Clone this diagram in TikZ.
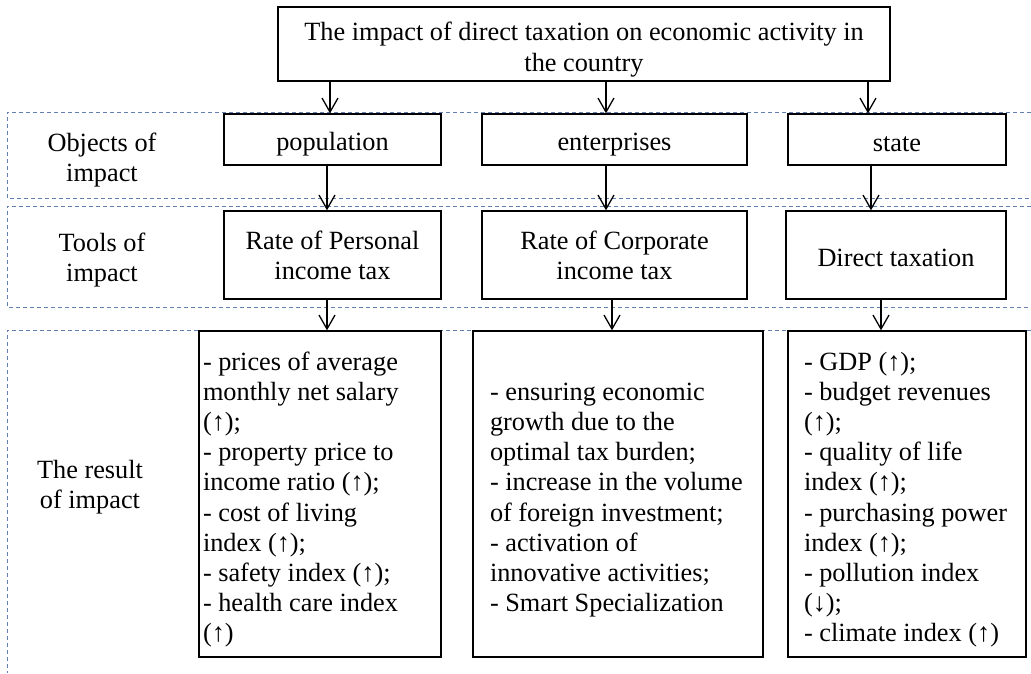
\documentclass[tikz,border=0pt]{standalone}
\usepackage{fontspec}
\setmainfont{Liberation Serif}
\usetikzlibrary{arrows.meta}
\definecolor{bandblue}{RGB}{96,128,178}
% text set a little lower in its box, box size unchanged
\newcommand{\lowered}[2][5pt]{\raisebox{-#1}[\height][\depth]{#2}}
% lines of a result box, kept as typed
\newcommand{\itemlines}[1]{\lowered[6pt]{\begin{tabular}{@{}l@{}}#1\end{tabular}}}

\tikzset{
  box/.style={draw, line width=1.3pt, inner sep=0pt, align=center},
  listbox/.style={box, align=flush left, inner ysep=0pt},
  band/.style={bandblue, line width=1pt, dash pattern=on 4pt off 3pt},
  arr/.style={line width=1.3pt, -{Straight Barb[length=14pt,width=16pt]}}
}

\begin{document}
\begin{tikzpicture}[x=1pt, y=-1pt,
    every node/.style={font=\fontsize{26.3}{30.2}\selectfont}]
  \useasboundingbox (0,0) rectangle (1031,673);

  % dashed bands of the rows
  \foreach \ya/\yb in {112/198, 206/307}{
    \draw[band] (1031,\ya) -- (7,\ya) -- (7,\yb) -- (1031,\yb);
  }
  \draw[band] (1031,330) -- (7,330) -- (7,673);

  % row titles
  \node[align=center] (lblObj) at (102,160) {Objects of\\impact};
  \node[align=center] (lblTool) at (102,260) {Tools of\\impact};
  \node[align=center] (lblRes) at (90,487) {The result\\of impact};

  \node[box, minimum width=612pt, minimum height=74pt] (top) at (584,44)
    {\lowered[6pt]{\begin{tabular}{@{}c@{}}The impact of direct taxation on economic activity in\\the country\end{tabular}}};

  % objects
  \node[box, minimum width=217pt, minimum height=51pt] (objP) at (332.5,139.5) {\lowered{population}};
  \node[box, minimum width=265pt, minimum height=51pt] (objE) at (614.5,139.5) {\lowered{enterprises}};
  \node[box, minimum width=218pt, minimum height=51pt] (objS) at (897,139.5) {\lowered{state}};

  % tools
  \node[box, minimum width=217pt, minimum height=88pt] (toolP) at (332.5,255) {Rate of Personal\\income tax};
  \node[box, minimum width=265pt, minimum height=88pt] (toolE) at (614.5,255) {Rate of Corporate\\income tax};
  \node[box, minimum width=220pt, minimum height=88pt] (toolS) at (896,255) {\lowered[3pt]{Direct taxation}};

  % results
  \node[listbox, inner xsep=4pt, text width=234pt, minimum height=326pt] (resP) at (320,494)
    {\itemlines{- prices of average\\monthly net salary\\(↑);\\- property price to\\income ratio (↑);\\- cost of living\\index (↑);\\- safety index (↑);\\- health care index\\(↑)}};
  \node[listbox, inner xsep=17pt, text width=256pt, minimum height=326pt] (resE) at (618,494)
    {\itemlines{- ensuring economic\\growth due to the\\optimal tax burden;\\- increase in the volume\\of foreign investment;\\- activation of\\innovative activities;\\- Smart Specialization}};
  \node[listbox, inner xsep=16pt, text width=206pt, minimum height=326pt] (resS) at (907,494)
    {\itemlines{- GDP (↑);\\- budget revenues\\(↑);\\- quality of life\\index (↑);\\- purchasing power\\index (↑);\\- pollution index\\(↓);\\- climate index (↑)}};

  % arrows between the rows
  \foreach \from/\to/\dx in {top/objP/-2.5, top/objE/-8.5, top/objS/-29,
      objP/toolP/-5.5, objE/toolE/-8.5, objS/toolS/-25,
      toolP/resP/7, toolE/resE/-6, toolS/resS/-26}{
    \path (\to.north) ++(\dx,0) coordinate (tip);
    \draw[arr] (\from.south -| tip) -- (tip);
  }
\end{tikzpicture}
\end{document}
